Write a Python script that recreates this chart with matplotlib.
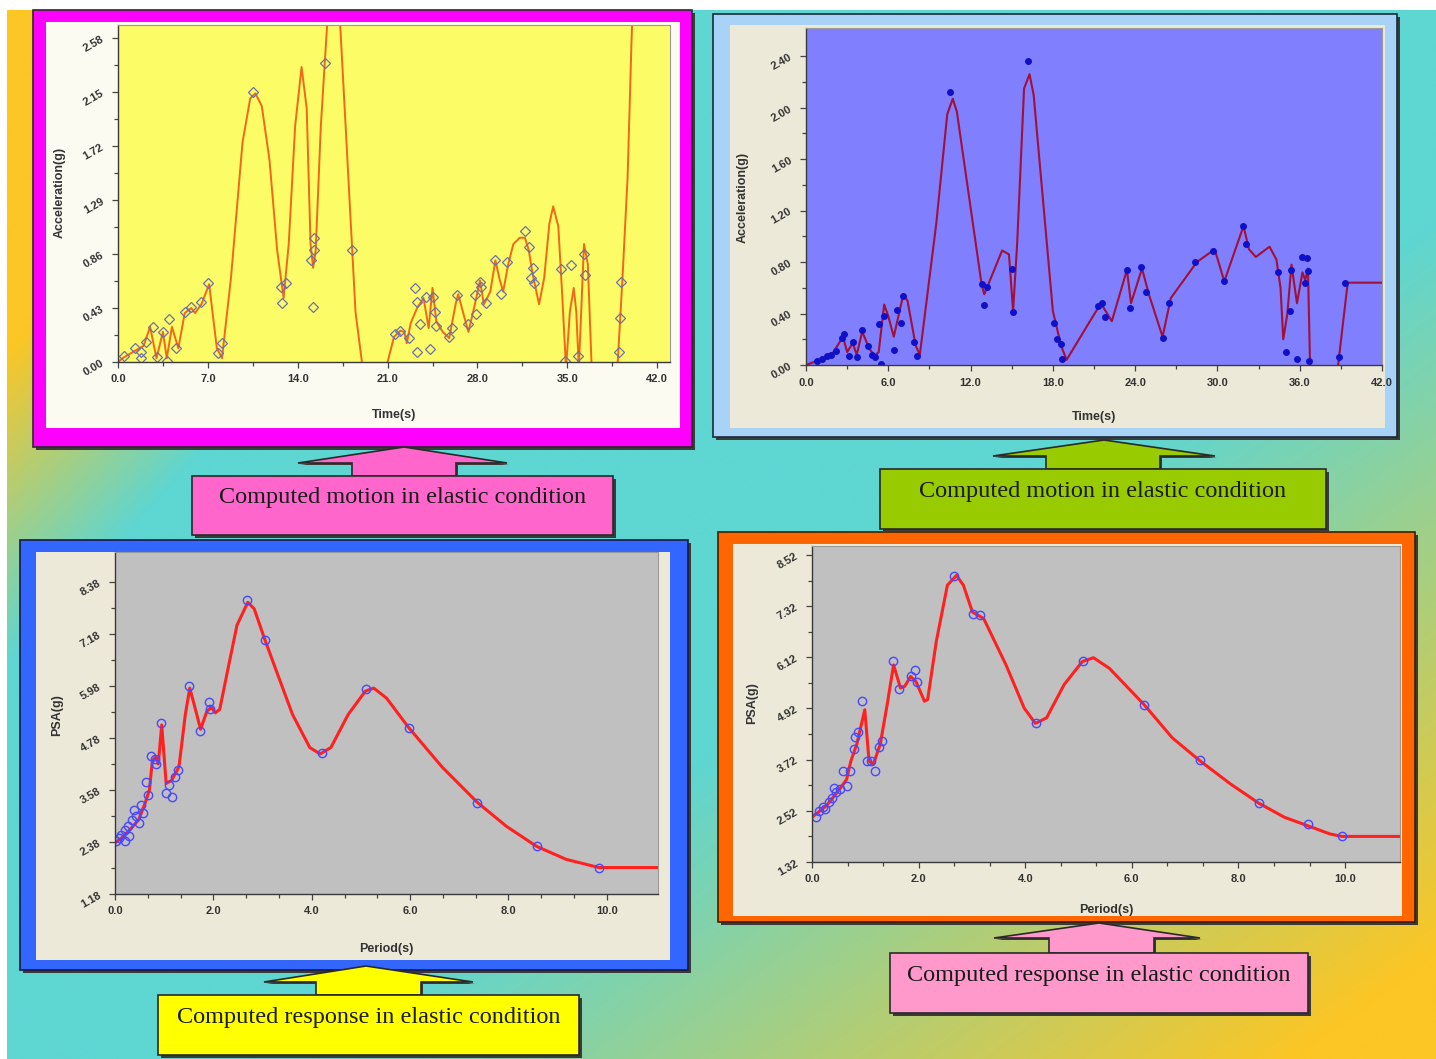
import numpy as np
import matplotlib.pyplot as plt
from matplotlib.patches import Rectangle, Polygon

W, H = 1436, 1059

# ---- top-left: computed motion (yellow panel) ----
acc1_line_t = [0, 0.5, 1.0, 1.5, 2.0, 2.5, 3.0, 3.5, 3.8, 4.2, 4.7, 5.2, 5.7, 6.0, 6.5, 7.1, 7.7, 8.1,
               8.8, 9.7, 10.3, 10.7, 11.2, 11.8, 12.4, 12.9, 13.3, 13.8, 14.3, 14.7, 15.0, 15.2, 15.4,
               15.8, 16.3, 16.8, 17.3, 17.8, 18.5, 19.0, 19.7, 20.4, 21.0, 21.5, 22.0, 22.3, 22.5, 22.8,
               23.3, 23.8, 24.2, 24.5, 24.8, 25.3, 25.8, 26.3, 26.5, 27.0, 27.3, 27.8, 28.2, 28.5, 29.0,
               29.4, 29.7, 30.0, 30.4, 30.8, 31.3, 31.7, 32.0, 32.3, 32.8, 33.2, 33.6, 33.9, 34.3, 34.6,
               34.9, 35.2, 35.5, 35.7, 35.9, 36.3, 36.6, 36.9, 37.5, 38.5, 38.9, 39.3, 39.7, 40.0, 40.2]
acc1_line_a = [0, 0.04, 0.07, 0.10, 0.13, 0.28, 0.03, 0.24, 0.03, 0.28, 0.11, 0.39, 0.43, 0.39, 0.46, 0.62, 0.11, 0.03,
               0.67, 1.75, 2.10, 2.14, 2.04, 1.61, 0.89, 0.51, 0.94, 1.88, 2.35, 2.02, 0.94, 0.75, 0.89,
               1.88, 2.70, 2.96, 2.70, 1.75, 0.40, 0.0, -0.40, -0.30, 0.0, 0.20, 0.25, 0.24, 0.15, 0.31,
               0.43, 0.51, 0.27, 0.59, 0.32, 0.24, 0.19, 0.46, 0.54, 0.35, 0.24, 0.46, 0.65, 0.46, 0.56,
               0.81, 0.67, 0.56, 0.78, 0.94, 0.99, 0.99, 0.89, 0.70, 0.46, 0.67, 1.10, 1.24, 1.08, 0.54,
               -0.05, 0.40, 0.59, 0.40, -0.05, 0.94, 0.78, -0.05, -0.50, -0.50, -0.05, 0.67, 1.48, 2.55, 3.10]
acc1_pts_t = [0.5, 1.3, 1.8, 1.8, 2.2, 2.7, 3.0, 3.5, 3.8, 4.0, 4.5, 5.2, 5.7, 6.5, 7.0, 7.8, 8.1,
              10.5, 12.7, 12.8, 13.1, 15.0, 15.2, 15.3, 15.3, 16.1, 18.2, 21.6, 22.0, 22.7, 23.1, 23.3,
              23.5, 23.3, 24.0, 24.3, 24.5, 24.7, 24.8, 25.8, 26.0, 26.4, 27.3, 27.8, 27.9, 28.2, 28.3,
              28.7, 29.4, 29.8, 30.3, 31.7, 32.0, 32.3, 32.2, 32.4, 34.5, 34.8, 35.3, 35.8, 36.3, 36.4,
              39.0, 39.1, 39.2]
acc1_pts_a = [0.05, 0.11, 0.08, 0.03, 0.16, 0.28, 0.04, 0.24, 0.01, 0.34, 0.11, 0.40, 0.44, 0.48, 0.63, 0.07, 0.15,
              2.15, 0.60, 0.47, 0.63, 0.81, 0.44, 0.99, 0.89, 2.38, 0.89, 0.22, 0.25, 0.19, 0.59, 0.48,
              0.30, 0.08, 0.52, 0.10, 0.52, 0.40, 0.29, 0.20, 0.27, 0.53, 0.30, 0.53, 0.38, 0.64, 0.60,
              0.47, 0.81, 0.54, 0.80, 1.04, 0.92, 0.75, 0.67, 0.63, 0.74, 0.01, 0.77, 0.05, 0.86, 0.69,
              0.08, 0.35, 0.64]
acc1_xticks = [0.0, 7.0, 14.0, 21.0, 28.0, 35.0, 42.0]
acc1_yticks = [0.00, 0.43, 0.86, 1.29, 1.72, 2.15, 2.58]

# ---- top-right: computed motion (blue panel) ----
acc2_line_t = [0, 1.0, 2.0, 2.7, 3.0, 3.4, 3.7, 4.1, 4.6, 5.0, 5.3, 5.7, 6.0, 6.4, 7.1, 7.4, 8.0, 8.3,
               9.5, 10.3, 10.7, 11.0, 12.8, 13.0, 14.3, 14.8, 15.1, 15.4, 15.9, 16.3, 16.6, 18.0, 18.6,
               19.0, 21.5, 22.3, 23.4, 23.7, 24.5, 25.0, 26.0, 26.6, 28.5, 29.8, 30.5, 31.9, 32.3, 32.8,
               33.8, 34.3, 34.6, 34.8, 35.1, 35.4, 35.8, 36.2, 36.4, 36.6, 36.75, 37.0, 38.6, 38.8, 39.5, 42.0]
acc2_line_a = [0, 0.04, 0.10, 0.22, 0.10, 0.17, 0.08, 0.26, 0.13, 0.07, 0.10, 0.47, 0.38, 0.22, 0.55, 0.50, 0.15, 0.08,
               1.10, 1.95, 2.07, 1.97, 0.63, 0.55, 0.89, 0.86, 0.42, 0.95, 2.15, 2.26, 2.10, 0.42, 0.15,
               0.04, 0.48, 0.34, 0.74, 0.48, 0.75, 0.55, 0.22, 0.52, 0.80, 0.90, 0.65, 1.08, 0.90, 0.84,
               0.92, 0.82, 0.60, 0.20, 0.40, 0.78, 0.48, 0.72, 0.66, 0.75, 0.02, -0.1, -0.1, 0.0, 0.64, 0.64]
acc2_pts_t = [0.8, 1.2, 1.5, 1.8, 2.2, 2.6, 2.8, 3.1, 3.4, 3.7, 4.1, 4.5, 4.8, 5.0, 5.3, 5.5, 5.7,
              6.4, 6.6, 6.9, 7.1, 7.9, 8.1, 10.5, 12.8, 13.0, 13.2, 15.0, 15.1, 16.2, 18.1, 18.3, 18.6,
              18.7, 21.3, 21.6, 21.8, 23.4, 23.6, 24.4, 24.8, 26.0, 26.5, 28.4, 29.7, 30.5, 31.9, 32.1,
              34.4, 35.0, 35.3, 35.4, 35.8, 36.2, 36.5, 36.4, 36.6, 36.7, 38.9, 39.3]
acc2_pts_a = [0.03, 0.05, 0.07, 0.08, 0.11, 0.21, 0.24, 0.07, 0.18, 0.06, 0.27, 0.15, 0.08, 0.06, 0.32, 0.01, 0.38,
              0.12, 0.43, 0.33, 0.54, 0.18, 0.07, 2.12, 0.63, 0.47, 0.61, 0.75, 0.41, 2.36, 0.33, 0.20, 0.16,
              0.05, 0.46, 0.48, 0.37, 0.74, 0.44, 0.76, 0.57, 0.21, 0.48, 0.80, 0.89, 0.65, 1.08, 0.94,
              0.72, 0.10, 0.42, 0.74, 0.05, 0.84, 0.83, 0.64, 0.73, 0.03, 0.06, 0.64]
acc2_xticks = [0.0, 6.0, 12.0, 18.0, 24.0, 30.0, 36.0, 42.0]
acc2_yticks = [0.00, 0.40, 0.80, 1.20, 1.60, 2.00, 2.40]

# ---- bottom-left: computed response (blue frame) ----
psa1_line_T = [0, 0.13, 0.3, 0.48, 0.61, 0.70, 0.76, 0.83, 0.88, 0.95, 1.04, 1.15, 1.30, 1.43, 1.52, 1.61,
               1.74, 1.87, 1.96, 2.04, 2.13, 2.30, 2.48, 2.70, 2.83, 3.04, 3.26, 3.61, 3.96, 4.17, 4.39,
               4.74, 5.09, 5.26, 5.52, 5.97, 6.65, 7.37, 7.96, 8.57, 9.17, 9.84, 11.1]
psa1_line_v = [2.36, 2.47, 2.66, 2.89, 3.27, 3.58, 4.26, 4.34, 4.18, 5.08, 3.73, 3.80, 4.11, 5.32, 5.93, 5.55,
               4.98, 5.40, 5.48, 5.36, 5.44, 6.39, 7.38, 7.91, 7.76, 7.07, 6.39, 5.32, 4.56, 4.41, 4.56,
               5.32, 5.86, 5.93, 5.70, 5.02, 4.11, 3.29, 2.74, 2.28, 1.98, 1.79, 1.79]
psa1_pts_T = [0.03, 0.09, 0.13, 0.20, 0.20, 0.26, 0.29, 0.35, 0.39, 0.43, 0.48, 0.52, 0.57, 0.63, 0.68,
              0.74, 0.81, 0.84, 0.93, 1.04, 1.10, 1.16, 1.22, 1.28, 1.50, 1.72, 1.91, 1.94, 2.68, 3.04,
              4.20, 5.11, 5.97, 7.37, 8.57, 9.84]
psa1_pts_v = [2.40, 2.47, 2.55, 2.66, 2.40, 2.74, 2.51, 2.89, 3.12, 2.97, 2.82, 3.23, 3.04, 3.77, 3.46,
              4.37, 4.30, 4.18, 5.13, 3.52, 3.69, 3.42, 3.88, 4.03, 5.99, 4.93, 5.61, 5.44, 7.97, 7.04,
              4.43, 5.91, 5.00, 3.29, 2.28, 1.79]
psa1_xticks = [0.0, 2.0, 4.0, 6.0, 8.0, 10.0]
psa1_yticks = [1.18, 2.38, 3.58, 4.78, 5.98, 7.18, 8.38]

# ---- bottom-right: computed response (orange frame) ----
psa2_line_T = [0, 0.27, 0.52, 0.65, 0.73, 0.84, 0.99, 1.07, 1.15, 1.28, 1.41, 1.53, 1.66, 1.74, 1.85, 1.95,
               2.11, 2.17, 2.33, 2.54, 2.71, 2.84, 3.01, 3.22, 3.64, 3.98, 4.19, 4.40, 4.73, 5.07, 5.28,
               5.58, 6.23, 6.76, 7.28, 7.85, 8.38, 8.86, 9.30, 9.71, 9.94, 11.1]
psa2_line_v = [2.37, 2.64, 3.03, 3.26, 3.69, 4.08, 4.89, 3.69, 3.61, 4.08, 5.01, 5.94, 5.40, 5.44, 5.67, 5.55,
               5.09, 5.13, 6.48, 7.81, 8.04, 7.81, 7.18, 7.03, 5.94, 4.93, 4.57, 4.70, 5.48, 6.02, 6.11,
               5.86, 5.01, 4.23, 3.69, 3.15, 2.70, 2.37, 2.17, 1.98, 1.92, 1.92]
psa2_pts_T = [0.08, 0.14, 0.20, 0.25, 0.31, 0.37, 0.42, 0.45, 0.52, 0.58, 0.65, 0.71, 0.78, 0.80, 0.86,
              0.94, 1.04, 1.11, 1.18, 1.26, 1.32, 1.52, 1.63, 1.85, 1.93, 1.97, 2.67, 3.02, 3.15, 4.20,
              5.09, 6.23, 7.28, 8.38, 9.30, 9.94]
psa2_pts_v = [2.38, 2.51, 2.62, 2.56, 2.72, 2.83, 3.05, 2.95, 3.03, 3.46, 3.11, 3.46, 3.96, 4.26, 4.37,
              5.10, 3.69, 3.69, 3.46, 4.02, 4.15, 6.04, 5.38, 5.69, 5.82, 5.53, 8.02, 7.13, 7.11, 4.57,
              6.04, 5.01, 3.71, 2.70, 2.20, 1.92]
psa2_xticks = [0.0, 2.0, 4.0, 6.0, 8.0, 10.0]
psa2_yticks = [1.32, 2.52, 3.72, 4.92, 6.12, 7.32, 8.52]

captions = ["Computed motion in elastic condition", "Computed motion in elastic condition",
            "Computed response in elastic condition", "Computed response in elastic condition"]

SANS = ['Liberation Sans', 'DejaVu Sans']
SERIF = ['Liberation Serif', 'DejaVu Serif']


def frac(x0, y0, x1, y1):
    return [x0 / W, 1 - y1 / H, (x1 - x0) / W, (y1 - y0) / H]


def px(x, y):
    return x / W, 1 - y / H


fig = plt.figure(figsize=(W / 100, H / 100), dpi=100, facecolor='white')

# background
bg = fig.add_axes([0, 0, 1, 1])
yy, xx = np.mgrid[0:H, 0:W]
s1 = 0.6 * xx / W + 0.4 * yy / H
s2 = (xx / W + yy / H) / 2
w = np.clip(np.maximum((0.25 - s1) / 0.12, (s2 - 0.6) / 0.35), 0, 1)[..., None]
orange = np.array([252, 198, 36]) / 255
cyan = np.array([94, 214, 210]) / 255
img = cyan * (1 - w) + orange * w
bg.imshow(img, extent=(7, W, H, 10), aspect='auto', zorder=0)
bg.set_xlim(0, W)
bg.set_ylim(H, 0)
bg.axis('off')


def rect(x0, y0, x1, y1, fc, ec='#2a2a2a', lw=1.2, shadow=True):
    if shadow:
        bg.add_patch(Rectangle((x0 + 3, y0 + 3), x1 - x0, y1 - y0, fc='#3a3a3a', ec='none', zorder=2))
    bg.add_patch(Rectangle((x0, y0), x1 - x0, y1 - y0, fc=fc, ec=ec, lw=lw, zorder=3))


def callout(box, stem, head, tip, fc, text):
    x0, y0, x1, y1 = box
    sl, sr = stem
    hl, hr, hy = head
    pts = [(sl, y0), (sl, hy), (hl, hy), tip, (hr, hy), (sr, hy), (sr, y0)]
    bg.add_patch(Polygon([(x + 2, y + 2) for x, y in pts], closed=True, fc='#3a3a3a', ec='none', zorder=4))
    bg.add_patch(Polygon(pts, closed=True, fc=fc, ec='#2a2a2a', lw=1.2, zorder=5))
    bg.add_patch(Rectangle((x0 + 3, y0 + 3), x1 - x0, y1 - y0, fc='#3a3a3a', ec='none', zorder=6))
    bg.add_patch(Rectangle((x0, y0), x1 - x0, y1 - y0, fc=fc, ec='#2a2a2a', lw=1.2, zorder=7))
    bg.text((x0 + x1) / 2, y0 + 22, text, ha='center', va='center', fontsize=17.5,
            family=SERIF, color='#1a1a1a', zorder=8)


# frames and inner panels
rect(33, 10, 692, 447, '#ff00ff')
rect(46, 22, 680, 428, '#fbfbf2', ec='none', shadow=False)
rect(713, 14, 1397, 437, '#a8d2f6', ec='#1a2a3a')
rect(730, 25, 1385, 428, '#ece9d8', ec='none', shadow=False)
rect(20, 540, 688, 970, '#3366ff', ec='#1a1a40')
rect(36, 552, 670, 960, '#ece9d8', ec='none', shadow=False)
rect(718, 532, 1415, 922, '#ff6600', ec='#402000')
rect(733, 544, 1402, 916, '#ece9d8', ec='none', shadow=False)

callout((192, 476, 613, 535), (352, 456), (298, 507, 463), (404, 447), '#ff66cc', captions[0])
callout((880, 469, 1326, 529), (1046, 1160), (993, 1215, 456), (1104, 440), '#99cc00', captions[1])
callout((158, 995, 579, 1055), (316, 421), (264, 473, 982), (366, 966), '#ffff00', captions[2])
callout((890, 953, 1308, 1013), (1049, 1154), (994, 1200, 938), (1099, 923), '#ff99cc', captions[3])


def chart(box, fc, xlim, ylim, xticks, yticks, xfmt, yfmt, xminor_div):
    ax = fig.add_axes(frac(*box), facecolor=fc)
    ax.set_xlim(*xlim)
    ax.set_ylim(*ylim)
    ax.set_xticks(xticks)
    ax.set_yticks(yticks)
    xm = []
    for a, b in zip(xticks[:-1], xticks[1:]):
        xm += [a + (b - a) * k / xminor_div for k in range(1, xminor_div)]
    ym = [(a + b) / 2 for a, b in zip(yticks[:-1], yticks[1:])]
    ax.set_xticks(xm, minor=True)
    ax.set_yticks(ym, minor=True)
    ax.set_xticklabels([xfmt % v for v in xticks], fontsize=8, fontweight='bold', family=SANS, color='#333333')
    ax.set_yticklabels([yfmt % v for v in yticks], fontsize=8, fontweight='bold', family=SANS, color='#333333',
                       rotation=30)
    ax.tick_params(which='both', direction='out', color='#444444', width=0.9)
    ax.tick_params(which='major', length=4, pad=5)
    ax.tick_params(which='minor', length=3)
    for side in ['left', 'bottom']:
        ax.spines[side].set_color('#3a3a3a')
        ax.spines[side].set_linewidth(1.0)
    for side in ['top', 'right']:
        ax.spines[side].set_color('#9a9a9a')
        ax.spines[side].set_linewidth(0.8)
    return ax


# top-left
ax1 = chart((118, 25, 670, 362), '#fcfc66', (0, 43.0), (0, 2.685), acc1_xticks, acc1_yticks, '%.1f', '%.2f', 2)
ax1.plot(acc1_line_t, acc1_line_a, color='#f06818', lw=1.4)
ax1.plot(acc1_pts_t, acc1_pts_a, ls='none', marker='D', ms=5, mfc='none', mec='#7070a8', mew=0.9)

# top-right
ax2 = chart((806, 28, 1382, 365), '#8080ff', (0, 42.0), (0, 2.62), acc2_xticks, acc2_yticks, '%.1f', '%.2f', 2)
ax2.plot(acc2_line_t, acc2_line_a, color='#a01038', lw=1.5)
ax2.plot(acc2_pts_t, acc2_pts_a, ls='none', marker='o', ms=4, mfc='#1010c8', mec='#1010c8')

# bottom-left
ax3 = chart((115, 552, 658, 894), '#c0c0c0', (0, 11.04), (1.18, 9.07), psa1_xticks, psa1_yticks, '%.1f', '%.2f', 3)
ax3.plot(psa1_line_T, psa1_line_v, color='#ff2020', lw=2.2)
ax3.plot(psa1_pts_T, psa1_pts_v, ls='none', marker='o', ms=6, mfc='none', mec='#4848ff', mew=1.0)

# bottom-right
ax4 = chart((812, 546, 1400, 862), '#c0c0c0', (0, 11.03), (1.32, 8.73), psa2_xticks, psa2_yticks, '%.1f', '%.2f', 3)
ax4.plot(psa2_line_T, psa2_line_v, color='#ff2020', lw=2.2)
ax4.plot(psa2_pts_T, psa2_pts_v, ls='none', marker='o', ms=6, mfc='none', mec='#4848ff', mew=1.0)

# axis titles
lab = dict(fontsize=9, fontweight='bold', family=SANS, color='#333333', ha='center', va='center')
fig.text(*px(60, 192), 'Acceleration(g)', rotation=90, **lab)
fig.text(*px(394, 415), 'Time(s)', **lab)
fig.text(*px(743, 197), 'Acceleration(g)', rotation=90, **lab)
fig.text(*px(1094, 417), 'Time(s)', **lab)
fig.text(*px(57, 715), 'PSA(g)', rotation=90, **lab)
fig.text(*px(386, 949), 'Period(s)', **lab)
fig.text(*px(752, 703), 'PSA(g)', rotation=90, **lab)
fig.text(*px(1106, 910), 'Period(s)', **lab)

fig.savefig('out.png', dpi=100)
